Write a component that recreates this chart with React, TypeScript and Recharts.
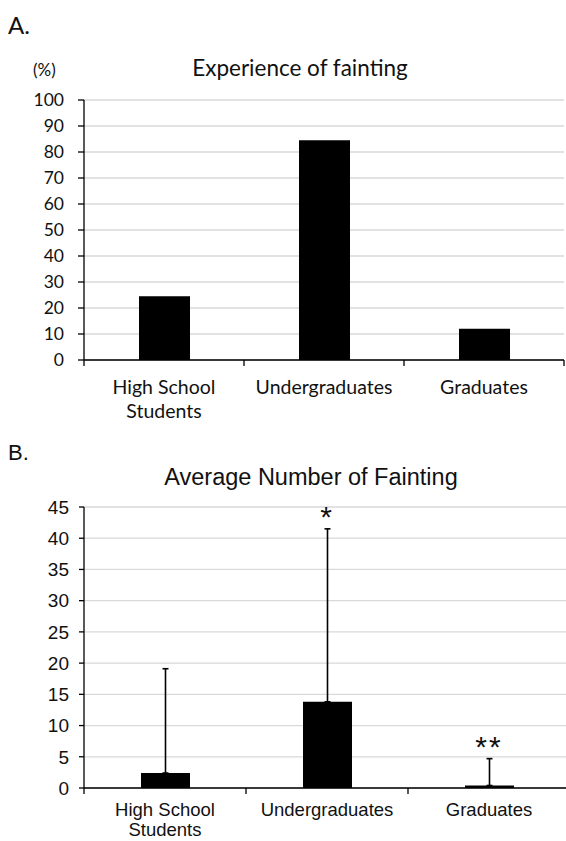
import { ComposedChart, Bar, XAxis, YAxis, CartesianGrid, ErrorBar, Scatter } from 'recharts';

const categories = ['High School\nStudents', 'Undergraduates', 'Graduates'];
// A: experience of fainting (%)
const experiencePct = [24.5, 84.5, 12];
const ticksA = [0, 10, 20, 30, 40, 50, 60, 70, 80, 90, 100];
// B: average number of fainting, upper SD
const avgFainting = [2.4, 13.8, 0.4];
const sdFainting = [16.7, 27.7, 4.3];
const significance = ['', '*', '**'];
const ticksB = [0, 5, 10, 15, 20, 25, 30, 35, 40, 45];

const FONT_A = 'Lato, "Open Sans", sans-serif';
const FONT_B = '"Liberation Sans", Arial, sans-serif';

const dataA = categories.map((name, i) => ({ name, value: experiencePct[i] }));
const dataB = categories.map((name, i) => ({
  name,
  mean: avgFainting[i],
  err: [0, sdFainting[i]],
  top: avgFainting[i] + sdFainting[i],
  sig: significance[i],
}));

function makeTick(font: string, size: number, firstDy: number, lineH: number, endTick: boolean) {
  return (props: any) => {
    const { x, y, payload, index } = props;
    const half = payload.offset || 80;
    const lines = String(payload.value).split('\n');
    return (
      <g>
        <line x1={x - half} x2={x - half} y1={y} y2={y + 6} stroke="#000" strokeWidth={1.3} />
        {endTick && index === categories.length - 1 && (
          <line x1={x + half} x2={x + half} y1={y} y2={y + 6} stroke="#000" strokeWidth={1.3} />
        )}
        <text x={x} y={y + firstDy} textAnchor="middle" fontFamily={font} fontSize={size} fill="#111">
          {lines.map((l, k) => (
            <tspan key={k} x={x} dy={k === 0 ? 0 : lineH}>{l}</tspan>
          ))}
        </text>
      </g>
    );
  };
}

const StarShape = (props: any) => {
  const { cx, cy, payload } = props;
  if (!payload.sig) return <g />;
  return (
    <text x={cx} y={cy - 2} textAnchor="middle" fontFamily={FONT_B} fontSize={30} letterSpacing={2} fill="#111">
      {payload.sig}
    </text>
  );
};

export default function App() {
  return (
    <div style={{ position: 'absolute', left: 0, top: 0, width: 566, height: 841, background: '#fff', overflow: 'hidden' }}>
      <div style={{ position: 'absolute', left: 8, top: 10, fontFamily: FONT_A, fontSize: 24, color: '#111' }}>A.</div>
      <div style={{ position: 'absolute', left: 33, top: 59, fontFamily: FONT_A, fontSize: 17, color: '#111' }}>(%)</div>
      <div style={{ position: 'absolute', left: 0, width: 600, top: 54, textAlign: 'center', fontFamily: FONT_A, fontSize: 22.5, color: '#111' }}>
        Experience of fainting
      </div>
      <div style={{ position: 'absolute', left: 0, top: 0 }}>
        <ComposedChart width={566} height={440} data={dataA} margin={{ top: 100, right: 2, bottom: 0, left: 0 }}>
          <CartesianGrid vertical={false} stroke="#d9d9d9" strokeWidth={1.3} />
          <XAxis
            dataKey="name"
            height={80}
            axisLine={{ stroke: '#000', strokeWidth: 1.3 }}
            tickLine={false}
            tickSize={0}
            tickMargin={0}
            interval={0}
            tick={makeTick(FONT_A, 19.5, 34, 24, true)}
          />
          <YAxis
            width={84}
            domain={[0, 100]}
            ticks={ticksA}
            interval={0}
            axisLine={{ stroke: '#000', strokeWidth: 1.3 }}
            tickLine={{ stroke: '#000', strokeWidth: 1.3 }}
            tickSize={6}
            tickMargin={14}
            tick={{ fontFamily: FONT_A, fontSize: 17.5, fill: '#111' }}
          />
          <Bar dataKey="value" fill="#000" barSize={51} isAnimationActive={false} />
        </ComposedChart>
      </div>

      <div style={{ position: 'absolute', left: 8, top: 440, fontFamily: FONT_B, fontSize: 22, color: '#111' }}>B.</div>
      <div style={{ position: 'absolute', left: 0, width: 622, top: 464, textAlign: 'center', fontFamily: FONT_B, fontSize: 23.5, color: '#111' }}>
        Average Number of Fainting
      </div>
      <div style={{ position: 'absolute', left: 0, top: 440 }}>
        <ComposedChart width={566} height={401} data={dataB} margin={{ top: 67, right: -4, bottom: 0, left: 0 }}>
          <CartesianGrid vertical={false} stroke="#d9d9d9" strokeWidth={1.3} />
          <XAxis
            dataKey="name"
            height={53}
            axisLine={{ stroke: '#000', strokeWidth: 1.3 }}
            tickLine={false}
            tickSize={0}
            tickMargin={0}
            interval={0}
            tick={makeTick(FONT_B, 18.5, 28, 20, false)}
          />
          <YAxis
            width={84}
            domain={[0, 45]}
            ticks={ticksB}
            interval={0}
            axisLine={{ stroke: '#000', strokeWidth: 1.3 }}
            tickLine={{ stroke: '#000', strokeWidth: 1.3 }}
            tickSize={5}
            tickMargin={10}
            tick={{ fontFamily: FONT_B, fontSize: 19, fill: '#111' }}
          />
          <Bar dataKey="mean" fill="#000" barSize={49} isAnimationActive={false}>
            <ErrorBar dataKey="err" direction="y" width={3} stroke="#000" strokeWidth={1.6} isAnimationActive={false} />
          </Bar>
          <Scatter dataKey="top" shape={StarShape} legendType="none" isAnimationActive={false} />
        </ComposedChart>
      </div>
    </div>
  );
}
